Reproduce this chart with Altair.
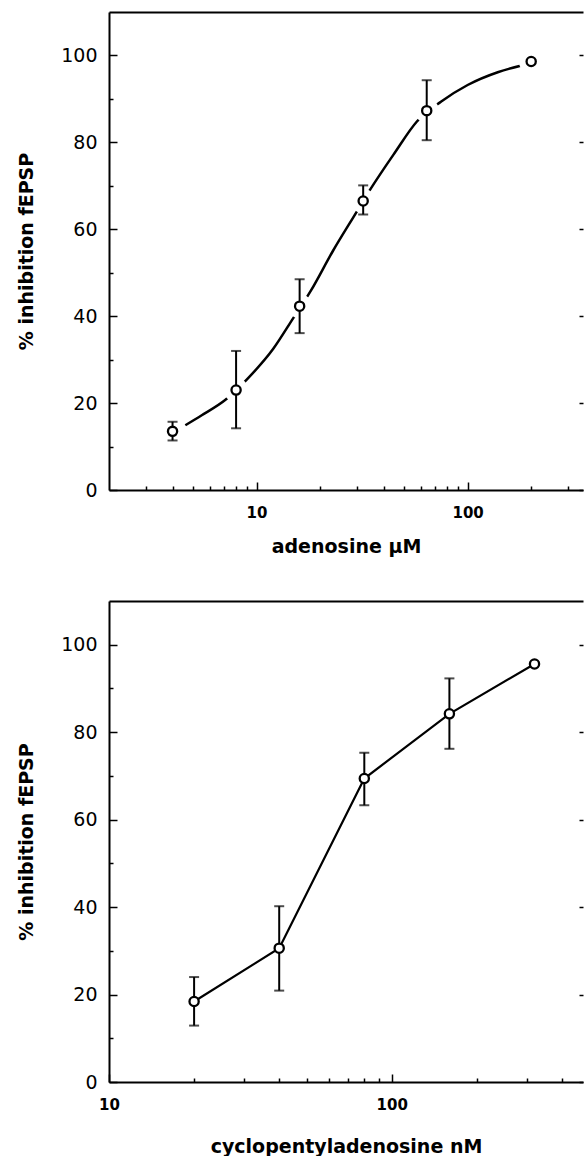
import altair as alt
import pandas as pd

# ---- adenosine (µM) ----
ado_conc = [4, 8, 16, 32, 64, 200]
ado_inhib = [13.5, 23.0, 42.3, 66.5, 87.3, 98.6]
ado_err_lo = [11.4, 14.2, 36.1, 63.4, 80.5, None]
ado_err_hi = [15.7, 32.0, 48.5, 70.1, 94.3, None]

# fitted concentration-response curve for adenosine
fit_conc = [4.6, 5.5, 7.1, 9.1, 12, 14.9, 18, 23, 29.8, 34.4, 45, 57.5, 75, 100, 140, 180]
fit_inhib = [14.9, 17.2, 20.7, 25.7, 32.5, 39.5, 45.7, 55.0, 64.0, 69.0, 77.5, 84.8, 89.4, 93.2, 96.2, 97.7]

# ---- cyclopentyladenosine (nM) ----
cpa_conc = [20, 40, 80, 160, 320]
cpa_inhib = [18.4, 30.6, 69.4, 84.2, 95.6]
cpa_err_lo = [12.9, 20.9, 63.3, 76.2, None]
cpa_err_hi = [24.0, 40.2, 75.3, 92.3, None]

# axis tick positions
y_major = [0, 20, 40, 60, 80, 100]
y_minor = [10, 30, 50, 70, 90]
ado_x_major = [10, 100]
ado_x_minor = [3, 4, 5, 6, 7, 8, 9, 20, 30, 40, 50, 60, 70, 80, 90, 200, 300]
cpa_x_major = [10, 100]
cpa_x_minor = [20, 30, 40, 50, 60, 70, 80, 90, 200, 300, 400]

W = 474
FONT = "DejaVu Sans"


def axis_main(values, title, orient, **kw):
    return alt.Axis(
        orient=orient, values=values, title=title, grid=False,
        ticks=False, tickSize=0, domain=True, domainColor="black", domainWidth=2,
        labelFont=FONT, labelColor="black", labelFlush=False,
        titleFont=FONT, titleColor="black",
        titleFontWeight="bold", titleFontSize=19, **kw,
    )


def axis_ticks(values, orient, size, offset):
    # tick-only axis; negative offsets move it onto the opposite frame edge
    return alt.Axis(
        orient=orient, values=values, title=None, grid=False, labels=False,
        domain=False, ticks=True, tickSize=size, tickWidth=1.5, tickColor="black",
        offset=offset,
    )


def axis_frame(orient):
    return alt.Axis(
        orient=orient, title=None, grid=False, labels=False, ticks=False,
        domain=True, domainColor="black", domainWidth=2,
    )


def panel(conc, inhib, lo, hi, x_dom, x_major, x_minor, x_title, height,
          x_title_pad, line_df=None, interp="linear", line_w=2.2):
    xs = alt.Scale(type="log", domain=x_dom, nice=False)
    ys = alt.Scale(domain=[0, 110], nice=False)

    pts = pd.DataFrame({"conc": conc, "inhib": inhib, "lo": lo, "hi": hi})
    bars = pts.dropna()

    if line_df is None:
        line_df = pts[["conc", "inhib"]]

    line = alt.Chart(line_df).mark_line(
        color="black", strokeWidth=line_w, interpolate=interp
    ).encode(
        x=alt.X("conc:Q", scale=xs, axis=axis_main(
            x_major, x_title, "bottom", format="d", labelFontSize=15,
            labelFontWeight="bold", labelPadding=15, titlePadding=x_title_pad)),
        y=alt.Y("inhib:Q", scale=ys, axis=axis_main(
            y_major, "% inhibition fEPSP", "left", labelFontSize=19,
            labelPadding=12, titlePadding=24)),
    )

    rules = alt.Chart(bars).mark_rule(color="black", strokeWidth=2).encode(
        x=alt.X("conc:Q", scale=xs, axis=axis_ticks(x_major, "top", 8, -height)),
        y=alt.Y("lo:Q", scale=ys, axis=axis_ticks(y_major, "right", 8, -W)),
        y2="hi:Q",
    )

    caps_lo = alt.Chart(bars).mark_tick(
        color="black", thickness=2, size=10, orient="horizontal"
    ).encode(
        x=alt.X("conc:Q", scale=xs, axis=axis_ticks(x_minor, "top", 4, -height)),
        y=alt.Y("lo:Q", scale=ys, axis=axis_ticks(y_minor, "right", 4, -W)),
    )

    caps_hi = alt.Chart(bars).mark_tick(
        color="black", thickness=2, size=10, orient="horizontal"
    ).encode(
        x=alt.X("conc:Q", scale=xs, axis=axis_frame("top")),
        y=alt.Y("hi:Q", scale=ys, axis=axis_ticks(y_major, "left", 4, -W)),
    )

    points = alt.Chart(pts).mark_point(
        shape="circle", size=85, filled=False, fill="white", fillOpacity=1,
        stroke="black", strokeWidth=2.3, opacity=1,
    ).encode(
        x=alt.X("conc:Q", scale=xs, axis=None),
        y=alt.Y("inhib:Q", scale=ys, axis=None),
    )

    return line, rules, caps_lo, caps_hi, points, xs, ys, pts


# top panel: fitted curve broken around each data point
t_line, t_rules, t_lo, t_hi, t_pts, t_xs, t_ys, t_df = panel(
    ado_conc, ado_inhib, ado_err_lo, ado_err_hi, [2, 352],
    ado_x_major, ado_x_minor, "adenosine µM", 478, 17,
    line_df=pd.DataFrame({"conc": fit_conc, "inhib": fit_inhib}),
    interp="monotone", line_w=2.5,
)
halo = alt.Chart(t_df).mark_point(
    shape="circle", size=600, filled=True, color="white", opacity=1
).encode(
    x=alt.X("conc:Q", scale=t_xs, axis=None),
    y=alt.Y("inhib:Q", scale=t_ys, axis=None),
)
top = alt.layer(t_line, halo, t_rules, t_lo, t_hi, t_pts).resolve_axis(
    x="independent", y="independent"
).properties(width=W, height=478)

# bottom panel: points joined by straight segments
b_line, b_rules, b_lo, b_hi, b_pts, _, _, _ = panel(
    cpa_conc, cpa_inhib, cpa_err_lo, cpa_err_hi, [10, 475],
    cpa_x_major, cpa_x_minor, "cyclopentyladenosine nM", 481, 25,
)
bottom = alt.layer(b_line, b_rules, b_lo, b_hi, b_pts).resolve_axis(
    x="independent", y="independent"
).properties(width=W, height=481)

chart = alt.vconcat(top, bottom, spacing=45).properties(
    padding={"left": 17, "top": 12, "right": 0, "bottom": 0},
    background="white",
).configure_view(stroke=None)

chart.save("out.html", embed_options={"renderer": "svg", "actions": False})
